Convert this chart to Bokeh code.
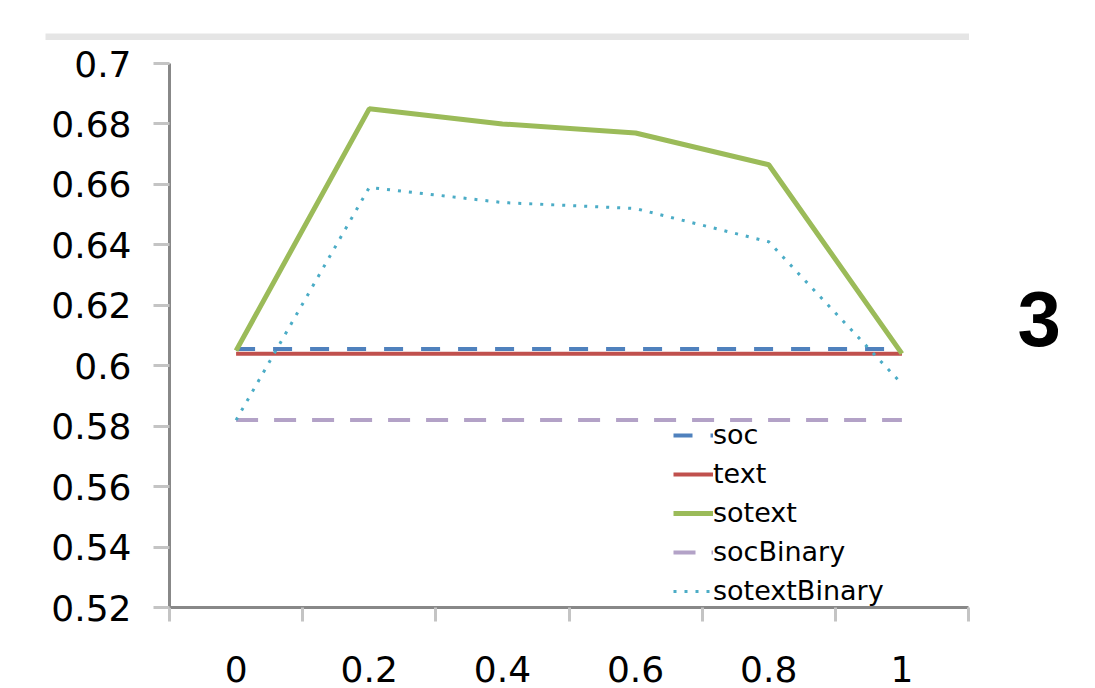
from bokeh.plotting import figure
from bokeh.layouts import column
from bokeh.models import (Range1d, FixedTicker, Legend, LegendItem, LinearAxis)
from bokeh.embed import file_html
from bokeh.resources import INLINE
import numpy as np

# ---- data ----
categories = ["0", "0.2", "0.4", "0.6", "0.8", "1"]
soc = [0.6055, 0.6055, 0.6055, 0.6055, 0.6055, 0.6055]
text = [0.604, 0.604, 0.604, 0.604, 0.604, 0.604]
sotext = [0.605, 0.685, 0.680, 0.677, 0.6665, 0.604]
socBinary = [0.582, 0.582, 0.582, 0.582, 0.582, 0.582]
sotextBinary = [0.582, 0.659, 0.654, 0.652, 0.641, 0.594]
y_ticks = [0.52, 0.54, 0.56, 0.58, 0.6, 0.62, 0.64, 0.66, 0.68, 0.7]
y_tick_labels = ["0.52", "0.54", "0.56", "0.58", "0.6", "0.62", "0.64", "0.66", "0.68", "0.7"]
panel_tag = "3"

n = len(categories)
xc = list(np.arange(n) + 0.5)

# ---- thin grey band above the chart (the frame of a tiny empty figure) ----
band = figure(width=969, height=40, output_backend="svg", toolbar_location=None,
              x_axis_type=None, y_axis_type=None, margin=0,
              min_border_left=45, min_border_top=33, min_border_right=0,
              min_border_bottom=0, frame_align=False,
              background_fill_color="#e5e5e5",
              border_fill_color="white", outline_line_color=None)
band.grid.visible = False

# ---- main chart ----
p = figure(width=1095, height=648, output_backend="svg", toolbar_location=None,
           x_range=Range1d(0, n), y_range=Range1d(0.52, 0.7),
           min_border_left=169, min_border_right=127,
           min_border_top=23, min_border_bottom=81, margin=0,
           frame_align=False)
p.grid.visible = False
p.outline_line_color = None
p.background_fill_color = "white"
p.border_fill_color = "white"

AX = "#888888"
TK = "#c4c4c4"
FONT = "DejaVu Sans"

# x axis: labels at category centres, tick marks at category boundaries
xa = p.xaxis[0]
xa.ticker = FixedTicker(ticks=xc, minor_ticks=list(range(n + 1)))
xa.major_label_overrides = {float(x): c for x, c in zip(xc, categories)}
xa.axis_line_color = AX
xa.axis_line_width = 3
xa.major_tick_line_color = None
xa.major_tick_out = 14
xa.major_tick_in = 0
xa.minor_tick_line_color = TK
xa.minor_tick_line_width = 3
xa.minor_tick_out = 14
xa.minor_tick_in = 0
xa.major_label_standoff = 34
xa.major_label_text_font = FONT
xa.major_label_text_font_size = "36px"
xa.major_label_text_color = "black"
xa.major_label_text_line_height = 0.5

ya = p.yaxis[0]
ya.ticker = FixedTicker(ticks=y_ticks, minor_ticks=[])
ya.major_label_overrides = {float(v): s for v, s in zip(y_ticks, y_tick_labels)}
ya.axis_line_color = AX
ya.axis_line_width = 3
ya.major_tick_line_color = TK
ya.major_tick_line_width = 3
ya.major_tick_out = 16
ya.major_tick_in = 0
ya.minor_tick_line_color = None
ya.major_label_standoff = 22
ya.major_label_text_font = FONT
ya.major_label_text_font_size = "36px"
ya.major_label_text_color = "black"

# panel tag "3" at the right side, as a right-hand axis label
tag_pos = 0.6153
ra = LinearAxis(ticker=FixedTicker(ticks=[tag_pos], minor_ticks=[]),
                major_label_overrides={tag_pos: panel_tag},
                axis_line_color=None, major_tick_line_color=None,
                minor_tick_line_color=None, major_tick_out=0, major_tick_in=0,
                major_label_standoff=49,
                major_label_text_font="Liberation Sans",
                major_label_text_font_style="bold",
                major_label_text_font_size="78px",
                major_label_text_color="black")
p.add_layout(ra, "right")

r1 = p.line(xc, soc, line_color="#4F81BD", line_width=4, line_dash="19 18")
r2 = p.line(xc, text, line_color="#C0504D", line_width=4)
r3 = p.line(xc, sotext, line_color="#9BBB59", line_width=5)
r4 = p.line(xc, socBinary, line_color="#8064A2", line_alpha=0.6, line_width=4, line_dash="22 16")
r5 = p.line(xc, sotextBinary, line_color="#4BACC6", line_width=3, line_dash="3 8")

legend = Legend(items=[LegendItem(label="soc", renderers=[r1]),
                       LegendItem(label="text", renderers=[r2]),
                       LegendItem(label="sotext", renderers=[r3]),
                       LegendItem(label="socBinary", renderers=[r4]),
                       LegendItem(label="sotextBinary", renderers=[r5])],
                location=(504, 1), orientation="vertical",
                glyph_width=40, glyph_height=30, label_height=30,
                label_standoff=0, spacing=8, padding=0, margin=0,
                border_line_color=None, background_fill_alpha=0,
                label_text_font=FONT, label_text_font_size="27px",
                label_text_color="black")
p.add_layout(legend)

layout = column(band, p, spacing=0)
open("out.html", "w").write(file_html(layout, INLINE))
